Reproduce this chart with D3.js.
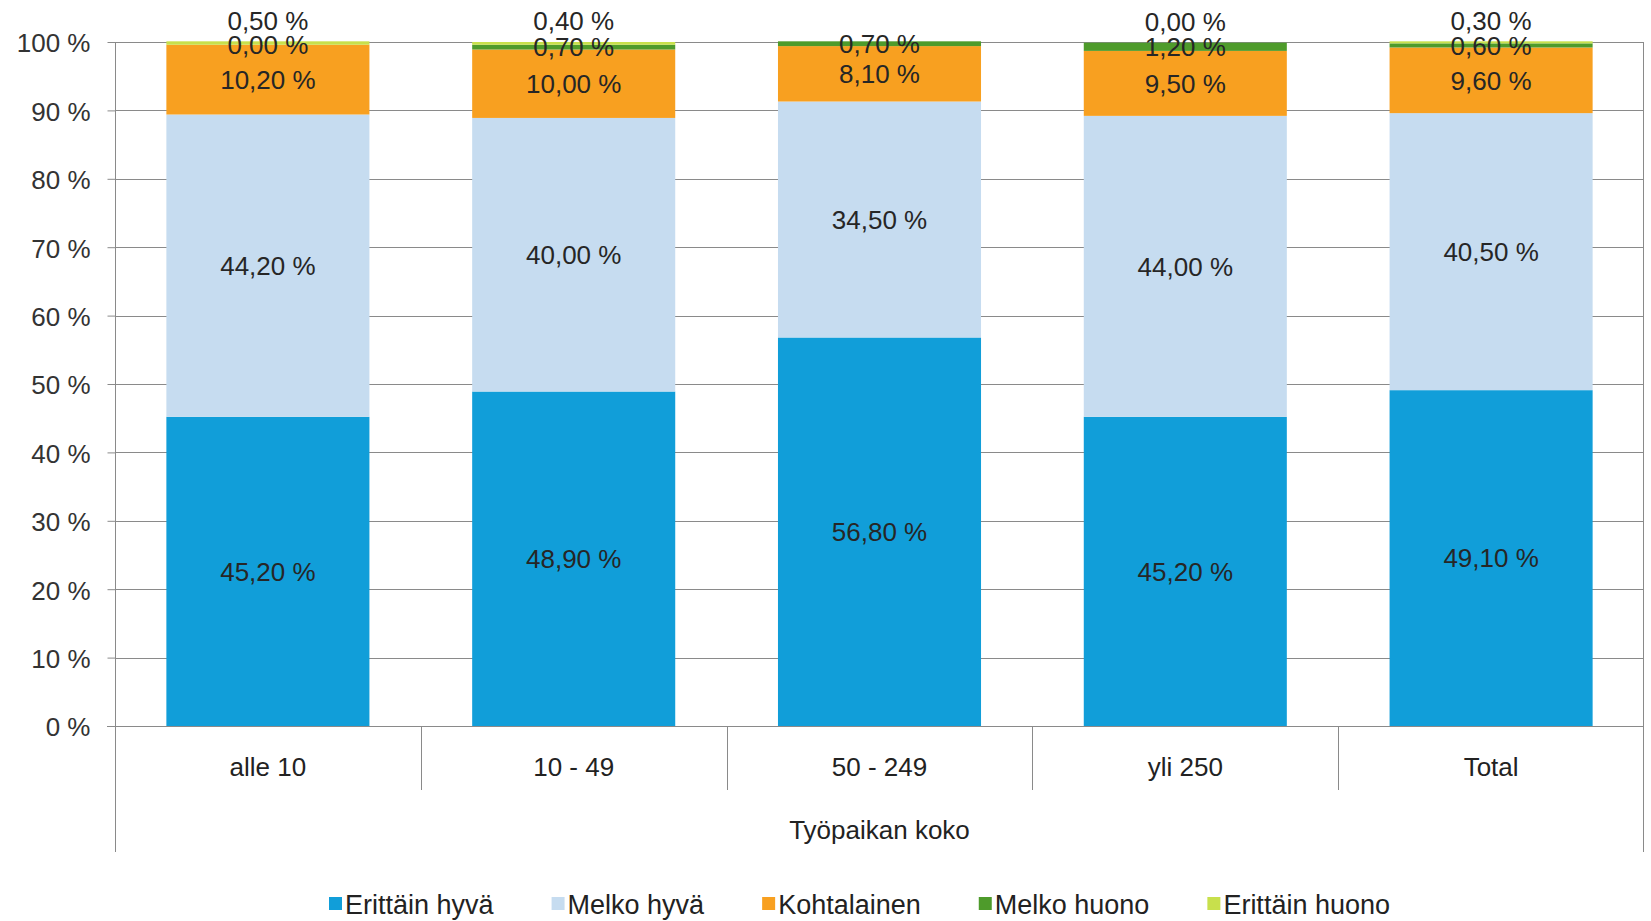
<!DOCTYPE html>
<html>
<head>
<meta charset="utf-8">
<script src="https://cdn.jsdelivr.net/npm/d3@7"></script>
<style>
  html, body { margin: 0; padding: 0; background: #fff; }
  svg { display: block; font-family: "Liberation Sans", Arial, sans-serif; }
</style>
</head>
<body>
<svg id="chart" width="1651" height="921"></svg>
<script>
// ---- data ----
const categories = ["alle 10", "10 - 49", "50 - 249", "yli 250", "Total"];
const seriesNames = ["Erittäin hyvä", "Melko hyvä", "Kohtalainen", "Melko huono", "Erittäin huono"];
const erittainHyva  = [45.2, 48.9, 56.8, 45.2, 49.1];
const melkoHyva     = [44.2, 40.0, 34.5, 44.0, 40.5];
const kohtalainen   = [10.2, 10.0, 8.1, 9.5, 9.6];
const melkoHuono    = [0.0, 0.7, 0.7, 1.2, 0.6];
const erittainHuono = [0.5, 0.4, null, 0.0, 0.3];
const yTicks = [0, 10, 20, 30, 40, 50, 60, 70, 80, 90, 100];
const xTitle = "Työpaikan koko";
const colors = ["#119ED9", "#C6DCF0", "#F8A020", "#4E9B2B", "#C8E04C"];

(function () {
// ---- layout ----
const svg = d3.select("#chart");
const mLeft = 115, mRight = 1644, mTop = 42, mBottom = 726;
const fmt = v => v.toFixed(2).replace(".", ",") + " %";

const seriesArrays = [erittainHyva, melkoHyva, kohtalainen, melkoHuono, erittainHuono];
const rows = categories.map((c, i) => {
  const r = { cat: c };
  seriesNames.forEach((s, j) => { r[s] = seriesArrays[j][i]; });
  return r;
});

const x = d3.scaleBand().domain(categories).range([mLeft, mRight])
  .paddingInner(0.336).paddingOuter(0.168);
const y = d3.scaleLinear().domain([0, 100]).range([mBottom, mTop]);

const stack = d3.stack().keys(seriesNames).value((d, k) => d[k] == null ? 0 : d[k]);
const stacked = stack(rows);

const gridColor = "#8a8a8a";
const textColor = "#262626";

// gridlines
svg.append("g").selectAll("line").data(yTicks.filter(t => t > 0)).join("line")
  .attr("x1", mLeft).attr("x2", mRight)
  .attr("y1", d => Math.round(y(d)) + 0.5).attr("y2", d => Math.round(y(d)) + 0.5)
  .attr("stroke", gridColor).attr("stroke-width", 1);

// bars
const gBars = svg.append("g");
stacked.forEach((layer, j) => {
  gBars.append("g").attr("fill", colors[j]).selectAll("rect")
    .data(layer.filter(d => d.data[seriesNames[j]] != null))
    .join("rect")
    .attr("x", d => x(d.data.cat))
    .attr("width", x.bandwidth())
    .attr("y", d => y(d[1]))
    .attr("height", d => Math.max(0, y(d[0]) - y(d[1])));
});

// y axis
const yAxis = d3.axisLeft(y).tickValues(yTicks).tickFormat(d => d + " %").tickSize(8).tickPadding(17);
const gy = svg.append("g").attr("transform", `translate(${mLeft + 0.5},0)`).call(yAxis);
gy.select(".domain").remove();
gy.selectAll(".tick line").attr("stroke", gridColor);
gy.selectAll(".tick text").attr("font-size", 26).attr("fill", "#333")
  .attr("font-family", "Liberation Sans, Arial, sans-serif").attr("dy", "0.38em");

// vertical frame lines (left axis and right border)
svg.append("line").attr("x1", mLeft + 0.5).attr("x2", mLeft + 0.5).attr("y1", mTop).attr("y2", 852)
  .attr("stroke", gridColor);
svg.append("line").attr("x1", mRight - 0.5).attr("x2", mRight - 0.5).attr("y1", mTop).attr("y2", 852)
  .attr("stroke", gridColor);
// baseline
svg.append("line").attr("x1", mLeft - 8).attr("x2", mRight).attr("y1", Math.round(y(0)) + 0.5).attr("y2", Math.round(y(0)) + 0.5)
  .attr("stroke", gridColor);

// category separators
const step = x.step();
svg.append("g").selectAll("line").data(categories.slice(1)).join("line")
  .attr("x1", d => Math.round(x(d) - (step - x.bandwidth()) / 2) + 0.5)
  .attr("x2", d => Math.round(x(d) - (step - x.bandwidth()) / 2) + 0.5)
  .attr("y1", mBottom).attr("y2", 790)
  .attr("stroke", gridColor);

// category labels
svg.append("g").selectAll("text").data(categories).join("text")
  .attr("x", d => x(d) + x.bandwidth() / 2)
  .attr("y", 767).attr("dy", "0.36em")
  .attr("text-anchor", "middle").attr("font-size", 26).attr("fill", "#222")
  .text(d => d);

// axis title
svg.append("text").attr("x", (mLeft + mRight) / 2).attr("y", 830).attr("dy", "0.36em")
  .attr("text-anchor", "middle").attr("font-size", 26).attr("fill", "#222")
  .text(xTitle);

// data labels
const gLab = svg.append("g");
stacked.forEach((layer, j) => {
  const last = j === seriesNames.length - 1;
  gLab.append("g").selectAll("text")
    .data(layer.filter(d => d.data[seriesNames[j]] != null))
    .join("text")
    .attr("x", d => x(d.data.cat) + x.bandwidth() / 2)
    .attr("y", d => last ? y(d[1]) - 21 : (y(d[0]) + y(d[1])) / 2)
    .attr("dy", "0.36em")
    .attr("text-anchor", "middle").attr("font-size", 26).attr("fill", textColor)
    .text(d => fmt(d.data[seriesNames[j]]));
});

// legend
const legend = svg.append("g").attr("transform", "translate(0,904)");
let lx = 329;
seriesNames.forEach((s, j) => {
  const g = legend.append("g").attr("transform", `translate(${lx},0)`);
  g.append("rect").attr("x", 0).attr("y", -7).attr("width", 13).attr("height", 13).attr("fill", colors[j]);
  const t = g.append("text").attr("x", 16).attr("y", 0).attr("dy", "0.36em")
    .attr("font-size", 27).attr("fill", "#222").text(s);
  const w = t.node().getComputedTextLength();
  lx += 16 + w + 58;
});
})();
</script>
</body>
</html>
